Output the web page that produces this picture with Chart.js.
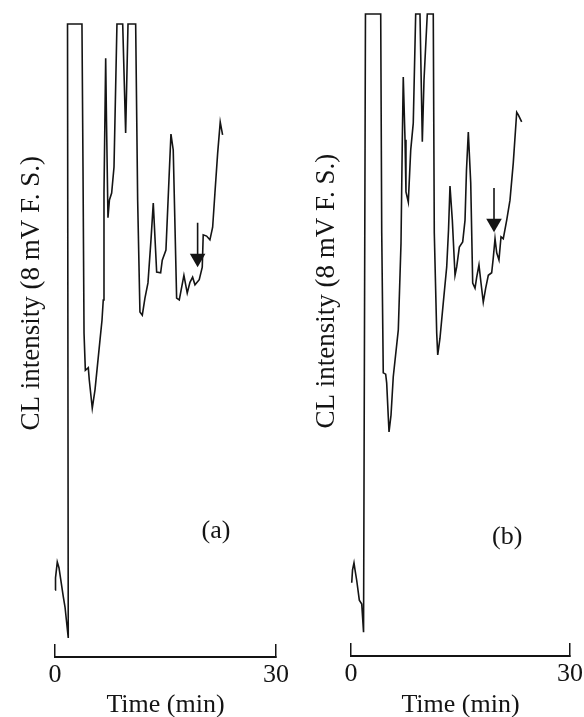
<html>

<head>
    <script src="https://cdn.jsdelivr.net/npm/chart.js@4.4.1/dist/chart.umd.min.js"></script>
    <style>
        body { margin: 0; background: #fff; }
        canvas { position: absolute; top: 0; }
    </style>
</head>

<body>
    <canvas id="panelA" width="292" height="717" style="left:0px"></canvas>
    <canvas id="panelB" width="292" height="717" style="left:292px"></canvas>
</body>

<script>
    // time in minutes, CL intensity in % of full scale (8 mV)
    var timeA = [0.00, 0.07, 0.31, 0.54, 1.13, 1.36, 1.80, 1.70, 3.66, 3.80, 3.94, 4.12, 4.52, 4.65, 5.06, 5.43, 6.11, 6.38,
        6.55, 6.65, 6.88, 6.99, 7.19, 7.39, 7.69, 8.01, 8.41, 9.19, 9.59, 9.91, 10.95, 11.22, 11.53, 11.85, 12.21, 12.62,
        13.03, 13.34, 13.80, 14.34, 14.56, 15.06, 15.47, 15.74, 16.05, 16.51, 16.87, 17.50, 17.95, 18.32, 18.68, 19.00,
        19.58, 19.99, 20.12, 20.58, 21.03, 21.40, 21.71, 22.08, 22.43, 22.75];
    var signalA = [10.6, 12.5, 15.0, 14.1, 9.5, 7.9, 3.0, 100, 100, 77.4, 51.2, 45.3, 45.7, 43.8, 39.3, 42.2, 50.1, 53.2,
        56.4, 73.3, 94.6, 84.8, 69.4, 72.2, 73.3, 77.4, 100, 100, 82.8, 100, 100, 72.2, 54.5, 54.0, 56.7, 59.1,
        65.9, 71.7, 60.8, 60.7, 62.7, 64.3, 75.4, 82.6, 80.1, 56.7, 56.4, 60.3, 57.5, 59.2, 60.0, 58.8,
        59.6, 61.6, 66.7, 66.5, 65.9, 67.9, 73.3, 79.6, 84.5, 82.5];

    var timeB = [0.10, 0.21, 0.41, 0.55, 0.78, 1.14, 1.47, 1.72, 1.98, 4.07, 4.21, 4.42, 4.75, 4.89, 5.11, 5.21, 5.48, 5.79,
        6.48, 6.85, 7.03, 7.16, 7.40, 7.53, 7.85, 8.18, 8.53, 8.86, 9.45, 9.77, 10.00, 10.45, 11.27, 11.41, 11.74, 11.88,
        12.19, 12.64, 13.11, 13.36, 13.56, 13.88, 14.25, 14.48, 14.84, 15.30, 15.62, 15.82, 16.07, 16.40, 16.67, 16.99,
        17.22, 17.53, 17.81, 18.12, 18.45, 18.81, 19.27, 19.49, 19.73, 19.96, 20.27, 20.55, 20.86, 21.33, 21.78, 22.23,
        22.70, 22.92, 23.38];
    var signalB = [11.4, 13.4, 14.5, 13.4, 11.8, 8.7, 8.1, 3.7, 100, 100, 65.9, 44.1, 43.9, 42.5, 37.2, 34.9, 37.5, 43.5,
        50.8, 64.3, 80.4, 90.2, 80.4, 72.3, 70.7, 78.8, 83.0, 100, 100, 80.1, 89.7, 100, 100, 65.9, 50.3, 46.9,
        49.5, 55.0, 60.6, 66.4, 73.2, 67.9, 59.3, 60.6, 63.7, 64.5, 67.9, 75.7, 81.6, 73.7, 58.1, 57.3,
        59.0, 60.9, 58.1, 55.1, 57.3, 59.3, 59.7, 62.0, 65.0, 62.8, 61.7, 65.3, 65.0, 67.9, 71.0, 76.8,
        84.7, 84.3, 83.2];

    // arrows marking the peak of interest
    var arrowTimeA = [19.36, 19.36];
    var arrowSignalA = [68.6, 63.0];
    var arrowTimeB = [19.59, 19.59];
    var arrowSignalB = [72.9, 67.4];

    var xTicks = [0, 30];
    var xTitle = 'Time (min)';
    var yTitle = 'CL intensity (8 mV F. S.)';

    var serif = 'Liberation Serif';
    var ink = '#141414';

    function toPoints(xs, ys) {
        return xs.map(function(x, i) { return {x: x, y: ys[i]}; });
    }

    var tagPlugin = {
        id: 'tag',
        afterDatasetsDraw: function(chart, args, opts) {
            var ctx = chart.ctx;
            ctx.save();
            ctx.font = '26px "' + serif + '"';
            ctx.fillStyle = ink;
            ctx.textAlign = 'center';
            ctx.textBaseline = 'middle';
            ctx.fillText(opts.text, chart.scales.x.getPixelForValue(opts.x), chart.scales.y.getPixelForValue(opts.y));
            ctx.restore();
        }
    };

    function makePanel(id, times, signal, arrowT, arrowS, tag, geo) {
        return new Chart(document.getElementById(id), {
            type: 'line',
            data: {
                datasets: [{
                    data: toPoints(times, signal),
                    borderColor: ink,
                    borderWidth: 1.6,
                    pointRadius: 0,
                    tension: 0,
                    clip: false
                }, {
                    data: toPoints(arrowT, arrowS),
                    borderColor: ink,
                    borderWidth: 1.6,
                    pointStyle: 'triangle',
                    rotation: 180,
                    pointRadius: [0, 9],
                    pointBackgroundColor: ink,
                    pointBorderColor: ink,
                    pointBorderWidth: 0,
                    clip: false
                }]
            },
            options: {
                responsive: false,
                animation: false,
                devicePixelRatio: 1,
                layout: {padding: {top: geo.top, right: geo.right, bottom: 0, left: 0}},
                plugins: {
                    legend: {display: false},
                    tooltip: {enabled: false},
                    tag: tag
                },
                scales: {
                    x: {
                        type: 'linear',
                        min: 0,
                        max: 30,
                        afterBuildTicks: function(s) { s.ticks = xTicks.map(function(v) { return {value: v}; }); },
                        afterFit: function(s) {
                            s.height = geo.xHeight;
                            s.paddingLeft = 0;
                            s.paddingRight = 0;
                        },
                        border: {display: true, color: ink, width: 2},
                        grid: {display: true, drawOnChartArea: false, drawTicks: true, tickLength: -13, color: ink, lineWidth: 1.5},
                        ticks: {padding: 16, color: ink, font: {family: serif, size: 26}, maxRotation: 0},
                        title: {display: true, text: xTitle, color: ink, padding: 0, font: {family: serif, size: 26, lineHeight: 0.92}}
                    },
                    y: {
                        min: 0,
                        max: 100,
                        afterFit: function(s) { s.width = geo.yWidth; },
                        border: {display: false},
                        grid: {display: false},
                        ticks: {display: false},
                        title: {display: true, text: geo.pad + yTitle, color: ink, padding: {top: geo.titleGap, bottom: 0},
                            font: {family: serif, size: 27}}
                    }
                }
            },
            plugins: [tagPlugin]
        });
    }

    makePanel('panelA', timeA, signalA, arrowTimeA, arrowSignalA,
        {text: '(a)', x: 21.85, y: 19.9},
        {top: 24, right: 16, xHeight: 60, yWidth: 55, titleGap: 16, pad: '              '});
    makePanel('panelB', timeB, signalB, arrowTimeB, arrowSignalB,
        {text: '(b)', x: 21.4, y: 18.5},
        {top: 14, right: 14, xHeight: 61, yWidth: 59, titleGap: 19, pad: '             '});
</script>

</html>
